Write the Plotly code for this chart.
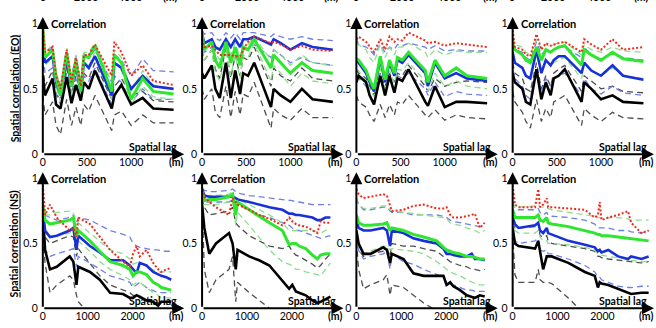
import plotly.graph_objects as go

W, H = 656, 328

# ---- spatial lags (m) ----
LAG_TOP = [0, 25, 110, 150, 200, 270, 325, 375, 430, 465, 520, 590, 780, 810, 890, 1000, 1130, 1250, 1480]
LAG_BOTTOM = [0, 50, 160, 310, 600, 680, 750, 790, 1050, 1270, 1500, 1790, 1940, 2010, 2090, 2160, 2310, 2460, 2570, 2640, 2750, 2860]
LAG_BOTTOM_4 = [0, 50, 130, 500, 570, 610, 680, 760, 790, 870, 1240, 1610, 1830, 1900, 1940, 1980, 2130, 2350, 2570, 2640, 2870, 3030]

TICKS_TOP = [0, 500, 1000]
TICKS_BOTTOM = [0, 1000, 2000]
TICKS_Y = [0, 0.5, 1]
TICKTEXT_Y = ["0", "0.5", "1"]

# ---- EO, panel 1 ----
eo1_black    = [0.60,0.45,0.58,0.38,0.35,0.59,0.39,0.53,0.41,0.55,0.50,0.64,0.35,0.45,0.53,0.38,0.43,0.35,0.34]
eo1_black_hi = [0.68,0.52,0.64,0.46,0.42,0.66,0.46,0.60,0.48,0.62,0.58,0.70,0.42,0.52,0.58,0.45,0.48,0.41,0.40]
eo1_black_lo = [0.45,0.30,0.40,0.22,0.15,0.42,0.22,0.36,0.22,0.38,0.33,0.45,0.18,0.30,0.33,0.22,0.30,0.24,0.24]
eo1_blue     = [0.90,0.70,0.75,0.55,0.45,0.72,0.52,0.68,0.48,0.70,0.66,0.75,0.45,0.70,0.66,0.50,0.60,0.52,0.50]
eo1_blue_hi  = [0.95,0.76,0.82,0.62,0.52,0.78,0.60,0.75,0.55,0.77,0.74,0.80,0.55,0.76,0.72,0.60,0.73,0.64,0.63]
eo1_blue_lo  = [0.82,0.62,0.66,0.45,0.38,0.62,0.42,0.58,0.40,0.60,0.56,0.66,0.38,0.60,0.55,0.40,0.50,0.42,0.42]
eo1_green    = [0.97,0.74,0.80,0.58,0.45,0.78,0.52,0.72,0.48,0.75,0.74,0.83,0.48,0.76,0.70,0.42,0.58,0.48,0.46]
eo1_green_hi = [0.98,0.77,0.84,0.63,0.52,0.81,0.58,0.76,0.55,0.78,0.78,0.85,0.55,0.80,0.74,0.48,0.64,0.53,0.50]
eo1_green_lo = [0.90,0.68,0.74,0.52,0.40,0.72,0.46,0.66,0.42,0.69,0.68,0.78,0.42,0.70,0.64,0.38,0.52,0.44,0.42]
eo1_red      = [1.00,0.78,0.82,0.60,0.50,0.80,0.55,0.74,0.52,0.76,0.76,0.84,0.60,0.86,0.78,0.60,0.68,0.56,0.53]

# ---- EO, panel 2 ----
eo2_black    = [0.62,0.58,0.68,0.50,0.43,0.70,0.43,0.64,0.46,0.62,0.60,0.70,0.36,0.50,0.45,0.40,0.50,0.42,0.40]
eo2_black_hi = [0.80,0.72,0.80,0.65,0.58,0.82,0.58,0.76,0.60,0.74,0.72,0.82,0.52,0.66,0.60,0.56,0.66,0.58,0.56]
eo2_black_lo = [0.50,0.42,0.50,0.32,0.28,0.52,0.28,0.48,0.30,0.46,0.44,0.55,0.20,0.35,0.30,0.26,0.35,0.28,0.28]
eo2_blue     = [0.92,0.85,0.88,0.82,0.80,0.88,0.82,0.88,0.82,0.88,0.88,0.90,0.84,0.88,0.85,0.80,0.85,0.82,0.80]
eo2_blue_hi  = [0.95,0.92,0.93,0.89,0.87,0.93,0.89,0.93,0.88,0.93,0.93,0.93,0.90,0.92,0.90,0.88,0.90,0.88,0.87]
eo2_blue_lo  = [0.88,0.78,0.82,0.74,0.70,0.82,0.74,0.80,0.72,0.80,0.80,0.84,0.74,0.80,0.76,0.70,0.74,0.70,0.68]
eo2_green    = [0.92,0.80,0.86,0.72,0.66,0.86,0.70,0.82,0.68,0.82,0.80,0.88,0.66,0.76,0.70,0.62,0.70,0.64,0.62]
eo2_green_hi = [0.94,0.84,0.88,0.78,0.72,0.88,0.76,0.85,0.74,0.85,0.84,0.90,0.72,0.80,0.76,0.68,0.76,0.70,0.68]
eo2_green_lo = [0.88,0.72,0.80,0.62,0.56,0.80,0.60,0.76,0.58,0.76,0.74,0.85,0.56,0.68,0.62,0.52,0.62,0.56,0.54]
eo2_red      = [0.88,0.82,0.83,0.80,0.76,0.76,0.76,0.75,0.75,0.80,0.86,0.90,0.85,0.86,0.84,0.80,0.83,0.80,0.79]

# ---- EO, panel 3 ----
eo3_black    = [0.55,0.60,0.55,0.45,0.38,0.60,0.45,0.60,0.47,0.58,0.56,0.65,0.40,0.37,0.52,0.36,0.40,0.40,0.39]
eo3_black_hi = [0.65,0.62,0.58,0.52,0.45,0.62,0.52,0.62,0.55,0.62,0.60,0.68,0.52,0.48,0.58,0.52,0.55,0.56,0.55]
eo3_black_lo = [0.45,0.40,0.36,0.30,0.25,0.38,0.28,0.38,0.30,0.40,0.38,0.45,0.30,0.28,0.34,0.26,0.30,0.28,0.27]
eo3_blue     = [0.72,0.70,0.62,0.55,0.48,0.73,0.55,0.70,0.60,0.72,0.70,0.76,0.62,0.52,0.70,0.58,0.62,0.58,0.56]
eo3_blue_hi  = [0.88,0.84,0.82,0.80,0.76,0.84,0.78,0.82,0.80,0.84,0.83,0.85,0.82,0.80,0.83,0.79,0.80,0.79,0.79]
eo3_blue_lo  = [0.60,0.58,0.52,0.45,0.40,0.58,0.45,0.58,0.48,0.60,0.58,0.62,0.50,0.45,0.55,0.44,0.48,0.46,0.45]
eo3_green    = [0.73,0.72,0.64,0.57,0.50,0.75,0.57,0.72,0.62,0.74,0.72,0.78,0.64,0.55,0.72,0.60,0.66,0.60,0.58]
eo3_green_hi = [0.85,0.84,0.80,0.74,0.70,0.84,0.74,0.82,0.76,0.82,0.82,0.85,0.78,0.74,0.80,0.76,0.79,0.78,0.78]
eo3_green_lo = [0.65,0.64,0.56,0.50,0.44,0.66,0.50,0.64,0.54,0.65,0.64,0.70,0.56,0.48,0.62,0.52,0.56,0.52,0.50]
eo3_red      = [0.88,0.90,0.86,0.82,0.78,0.88,0.80,0.90,0.86,0.88,0.87,0.93,0.87,0.85,0.86,0.83,0.85,0.84,0.82]

# ---- EO, panel 4 ----
eo4_black    = [0.62,0.55,0.50,0.40,0.38,0.65,0.42,0.55,0.45,0.58,0.60,0.65,0.40,0.55,0.50,0.42,0.45,0.40,0.39]
eo4_black_hi = [0.70,0.62,0.58,0.50,0.48,0.70,0.50,0.60,0.52,0.62,0.65,0.68,0.48,0.60,0.56,0.50,0.52,0.48,0.47]
eo4_black_lo = [0.48,0.40,0.32,0.25,0.20,0.42,0.25,0.35,0.28,0.40,0.42,0.45,0.22,0.35,0.30,0.25,0.32,0.28,0.27]
eo4_blue     = [0.78,0.70,0.66,0.60,0.58,0.80,0.62,0.72,0.68,0.72,0.75,0.75,0.62,0.70,0.64,0.60,0.68,0.60,0.57]
eo4_blue_hi  = [0.85,0.80,0.78,0.74,0.72,0.86,0.76,0.80,0.78,0.80,0.82,0.82,0.74,0.82,0.76,0.72,0.78,0.74,0.72]
eo4_blue_lo  = [0.65,0.58,0.52,0.45,0.42,0.65,0.48,0.58,0.52,0.58,0.60,0.62,0.45,0.58,0.50,0.46,0.52,0.47,0.45]
eo4_green    = [0.85,0.80,0.76,0.72,0.70,0.82,0.72,0.80,0.78,0.80,0.82,0.83,0.68,0.80,0.76,0.72,0.78,0.73,0.71]
eo4_green_hi = [0.90,0.84,0.82,0.78,0.76,0.88,0.80,0.84,0.82,0.84,0.85,0.86,0.76,0.84,0.80,0.78,0.82,0.79,0.78]
eo4_green_lo = [0.78,0.70,0.66,0.60,0.58,0.76,0.62,0.72,0.68,0.70,0.72,0.74,0.58,0.70,0.64,0.60,0.66,0.60,0.58]
eo4_red      = [0.95,0.82,0.80,0.76,0.75,0.92,0.80,0.85,0.83,0.84,0.85,0.86,0.78,0.88,0.84,0.80,0.88,0.80,0.82]

# ---- NS, panel 1 ----
ns1_black    = [0.75,0.45,0.30,0.32,0.40,0.36,0.18,0.32,0.28,0.22,0.12,0.11,0.08,0.08,0.10,0.09,0.06,0.05,0.02,0.05,0.05,0.05]
ns1_black_hi = [0.70,0.55,0.50,0.52,0.56,0.55,0.40,0.46,0.35,0.25,0.18,0.14,0.12,0.10,0.10,0.08,0.06,0.05,0.04,0.05,0.05,0.05]
ns1_black_lo = [0.55,0.35,0.12,0.18,0.25,0.22,0.10,0.05,-0.05,-0.10,-0.12,-0.14,-0.15,-0.15,-0.16,-0.16,-0.17,-0.18,-0.18,-0.18,-0.19,-0.19]
ns1_blue     = [0.78,0.60,0.55,0.56,0.60,0.62,0.45,0.56,0.48,0.43,0.37,0.37,0.33,0.30,0.27,0.35,0.33,0.28,0.26,0.25,0.24,0.22]
ns1_blue_hi  = [0.80,0.72,0.70,0.68,0.70,0.72,0.66,0.70,0.68,0.64,0.60,0.57,0.55,0.50,0.48,0.47,0.46,0.45,0.45,0.44,0.44,0.44]
ns1_blue_lo  = [0.62,0.45,0.40,0.42,0.45,0.46,0.32,0.40,0.35,0.30,0.25,0.22,0.20,0.16,0.18,0.20,0.16,0.14,0.12,0.12,0.12,0.12]
ns1_green    = [0.80,0.68,0.65,0.66,0.68,0.70,0.55,0.60,0.52,0.44,0.36,0.33,0.30,0.25,0.28,0.28,0.26,0.20,0.18,0.16,0.15,0.14]
ns1_green_hi = [0.80,0.72,0.72,0.74,0.75,0.74,0.62,0.66,0.58,0.52,0.45,0.42,0.38,0.34,0.35,0.36,0.32,0.30,0.28,0.28,0.28,0.28]
ns1_green_lo = [0.72,0.58,0.55,0.56,0.58,0.60,0.48,0.52,0.44,0.36,0.30,0.25,0.22,0.18,0.20,0.20,0.16,0.12,0.10,0.08,0.08,0.08]
ns1_red      = [0.95,0.72,0.80,0.70,0.60,0.62,0.55,0.70,0.65,0.55,0.45,0.36,0.32,0.42,0.48,0.40,0.45,0.35,0.30,0.28,0.30,0.31]

# ---- NS, panel 2 ----
ns2_black    = [0.80,0.62,0.42,0.50,0.58,0.50,0.30,0.45,0.40,0.37,0.33,0.21,0.15,0.18,0.13,0.12,0.10,0.06,0.04,0.05,0.07,0.09]
ns2_black_hi = [0.85,0.78,0.72,0.73,0.75,0.78,0.66,0.64,0.56,0.52,0.48,0.46,0.48,0.44,0.41,0.40,0.37,0.34,0.31,0.33,0.38,0.42]
ns2_black_lo = [0.82,0.30,0.12,0.22,0.30,0.40,0.05,0.20,0.12,0.06,0.00,-0.05,-0.08,-0.10,-0.12,-0.13,-0.14,-0.15,-0.16,-0.16,-0.17,-0.17]
ns2_blue     = [0.92,0.87,0.86,0.86,0.86,0.86,0.85,0.84,0.82,0.80,0.78,0.76,0.73,0.73,0.72,0.72,0.71,0.70,0.68,0.68,0.70,0.70]
ns2_blue_hi  = [0.93,0.91,0.90,0.90,0.91,0.92,0.90,0.89,0.87,0.86,0.85,0.84,0.83,0.83,0.82,0.82,0.81,0.80,0.80,0.80,0.80,0.80]
ns2_blue_lo  = [0.88,0.82,0.82,0.82,0.82,0.84,0.80,0.80,0.76,0.72,0.70,0.66,0.64,0.62,0.60,0.60,0.58,0.56,0.55,0.54,0.55,0.56]
ns2_green    = [0.90,0.83,0.84,0.84,0.86,0.88,0.72,0.82,0.76,0.71,0.66,0.60,0.49,0.50,0.50,0.48,0.46,0.41,0.38,0.41,0.42,0.42]
ns2_green_hi = [0.92,0.86,0.87,0.87,0.88,0.90,0.80,0.84,0.80,0.76,0.72,0.66,0.60,0.60,0.60,0.60,0.60,0.60,0.59,0.58,0.60,0.62]
ns2_green_lo = [0.88,0.80,0.80,0.80,0.82,0.84,0.64,0.74,0.64,0.55,0.45,0.36,0.34,0.33,0.30,0.30,0.28,0.27,0.26,0.25,0.30,0.35]
ns2_red      = [0.92,0.86,0.82,0.78,0.72,0.85,0.82,0.80,0.76,0.72,0.69,0.64,0.70,0.67,0.65,0.64,0.63,0.60,0.58,0.67,0.66,0.66]

# ---- NS, panel 3 ----
ns3_black    = [0.60,0.50,0.42,0.42,0.47,0.45,0.35,0.42,0.38,0.27,0.25,0.25,0.25,0.18,0.20,0.17,0.14,0.10,0.09,0.08,0.10,0.09]
ns3_black_hi = [0.58,0.45,0.40,0.42,0.44,0.46,0.40,0.50,0.48,0.48,0.46,0.44,0.40,0.38,0.36,0.35,0.33,0.32,0.30,0.30,0.29,0.30]
ns3_black_lo = [0.52,0.30,0.15,0.18,0.22,0.26,0.10,0.18,0.16,0.10,0.04,-0.02,-0.05,-0.07,-0.08,-0.09,-0.10,-0.11,-0.12,-0.12,-0.13,-0.13]
ns3_blue     = [0.68,0.62,0.60,0.60,0.62,0.60,0.48,0.60,0.58,0.54,0.52,0.50,0.46,0.42,0.42,0.41,0.40,0.40,0.42,0.38,0.38,0.37]
ns3_blue_hi  = [0.85,0.80,0.76,0.76,0.78,0.78,0.75,0.74,0.74,0.72,0.72,0.72,0.71,0.70,0.68,0.67,0.66,0.65,0.64,0.64,0.63,0.63]
ns3_blue_lo  = [0.55,0.45,0.38,0.40,0.42,0.44,0.30,0.42,0.36,0.34,0.30,0.26,0.24,0.20,0.20,0.18,0.16,0.14,0.14,0.13,0.13,0.13]
ns3_green    = [0.72,0.66,0.64,0.64,0.65,0.66,0.60,0.62,0.60,0.57,0.55,0.52,0.47,0.45,0.44,0.43,0.42,0.40,0.40,0.39,0.38,0.38]
ns3_green_hi = [0.85,0.80,0.77,0.77,0.79,0.79,0.76,0.75,0.74,0.73,0.72,0.71,0.70,0.69,0.66,0.65,0.64,0.62,0.61,0.60,0.58,0.60]
ns3_green_lo = [0.58,0.48,0.42,0.44,0.48,0.48,0.45,0.46,0.45,0.44,0.42,0.36,0.32,0.30,0.28,0.27,0.25,0.22,0.20,0.19,0.18,0.18]
ns3_red      = [0.92,0.88,0.85,0.86,0.88,0.87,0.80,0.75,0.76,0.79,0.80,0.77,0.77,0.78,0.72,0.70,0.70,0.71,0.72,0.73,0.62,0.66]

# ---- NS, panel 4 ----
ns4_black    = [0.62,0.50,0.48,0.46,0.52,0.45,0.30,0.40,0.40,0.40,0.35,0.28,0.25,0.16,0.20,0.19,0.18,0.15,0.12,0.11,0.12,0.12]
ns4_black_hi = [0.66,0.62,0.62,0.63,0.66,0.56,0.55,0.56,0.52,0.50,0.48,0.46,0.44,0.40,0.40,0.39,0.38,0.37,0.36,0.36,0.35,0.36]
ns4_black_lo = [0.58,0.26,0.20,0.20,0.30,0.22,0.20,0.20,0.20,0.19,0.08,-0.05,-0.10,-0.11,-0.12,-0.12,-0.13,-0.14,-0.15,-0.15,-0.16,-0.16]
ns4_blue     = [0.70,0.65,0.62,0.64,0.66,0.60,0.58,0.62,0.58,0.57,0.52,0.49,0.47,0.44,0.45,0.43,0.45,0.40,0.38,0.40,0.38,0.40]
ns4_blue_hi  = [0.82,0.77,0.76,0.76,0.77,0.74,0.72,0.74,0.72,0.71,0.70,0.68,0.65,0.62,0.62,0.62,0.62,0.60,0.60,0.59,0.58,0.60]
ns4_blue_lo  = [0.62,0.52,0.50,0.52,0.54,0.45,0.44,0.45,0.42,0.42,0.38,0.33,0.28,0.24,0.24,0.22,0.20,0.17,0.16,0.16,0.17,0.17]
ns4_green    = [0.76,0.70,0.70,0.70,0.72,0.68,0.67,0.70,0.66,0.65,0.63,0.60,0.58,0.57,0.57,0.56,0.56,0.55,0.54,0.54,0.53,0.52]
ns4_green_hi = [0.82,0.78,0.78,0.79,0.80,0.78,0.78,0.78,0.77,0.76,0.74,0.72,0.71,0.70,0.70,0.70,0.70,0.70,0.69,0.68,0.68,0.68]
ns4_green_lo = [0.68,0.60,0.58,0.58,0.60,0.55,0.52,0.52,0.50,0.50,0.49,0.47,0.45,0.42,0.42,0.41,0.40,0.39,0.38,0.37,0.36,0.36]
ns4_red      = [0.95,0.80,0.78,0.78,0.92,0.78,0.80,0.85,0.78,0.78,0.77,0.76,0.70,0.72,0.82,0.68,0.70,0.72,0.75,0.66,0.58,0.60]

# ---- line styles (drawn back to front) ----
STYLES = [
    ("black_lo", dict(color="#4d4d4d", width=1.3, dash="6px,4px")),
    ("black_hi", dict(color="#4d4d4d", width=1.3, dash="6px,4px")),
    ("blue_lo",  dict(color="#6f7fe6", width=1.3, dash="6px,4px")),
    ("blue_hi",  dict(color="#6f7fe6", width=1.3, dash="6px,4px")),
    ("green_lo", dict(color="#8ede8e", width=1.3, dash="6px,4px")),
    ("green_hi", dict(color="#8ede8e", width=1.3, dash="6px,4px")),
    ("black",    dict(color="#000000", width=2.6)),
    ("blue",     dict(color="#1830d8", width=2.6)),
    ("green",    dict(color="#2ee62e", width=3.0)),
    ("red",      dict(color="#f02a1c", width=2.0, dash="2px,2px")),
]

g = globals()
panels = []
for i in range(4):
    panels.append(dict(row=0, col=i, lag=LAG_TOP, prefix=f"eo{i+1}_"))
for i in range(4):
    panels.append(dict(row=1, col=i, lag=LAG_BOTTOM_4 if i == 3 else LAG_BOTTOM, prefix=f"ns{i+1}_"))

# panel geometry in pixels
AXIS_X0 = [40, 200, 355, 512]
PLOT_W = 142
ROW_Y0 = [157, 314]      # pixel row of correlation 0
ROW_PX_PER_UNIT = [133, 132]
Y_TOP = 1.05
X_MAX = [1600, 3150]
FONT = "Lato"

def px(x):
    return x / W

def py(y):
    return 1 - y / H

fig = go.Figure()
layout = dict(
    width=W, height=H, margin=dict(l=0, r=0, t=0, b=0),
    paper_bgcolor="white", plot_bgcolor="white", showlegend=False,
    font=dict(family=FONT, color="black"),
)
annotations = []

for n, p in enumerate(panels, start=1):
    r, c = p["row"], p["col"]
    x0 = AXIS_X0[c]
    y0 = ROW_Y0[r]
    ytop_px = y0 - Y_TOP * ROW_PX_PER_UNIT[r]
    xs = "" if n == 1 else str(n)
    layout[f"xaxis{xs}"] = dict(
        domain=[px(x0), px(x0 + PLOT_W)], range=[0, X_MAX[r]], anchor=f"y{xs}",
        showgrid=False, zeroline=False, showline=False, ticks="",
        tickvals=TICKS_TOP if r == 0 else TICKS_BOTTOM,
        tickfont=dict(size=10.5, family=FONT, color="black"),
    )
    layout[f"yaxis{xs}"] = dict(
        domain=[py(y0), py(ytop_px)], range=[0, Y_TOP], anchor=f"x{xs}",
        showgrid=False, zeroline=False, showline=False, ticks="",
        tickvals=TICKS_Y, ticktext=TICKTEXT_Y, ticklabelstandoff=4,
        tickfont=dict(size=10.5, family=FONT, color="black"),
    )
    for key, line in STYLES:
        fig.add_trace(go.Scatter(
            x=p["lag"], y=g[p["prefix"] + key], mode="lines", line=line,
            xaxis=f"x{xs}", yaxis=f"y{xs}", hoverinfo="skip",
        ))
    # axis arrows
    annotations.append(dict(x=0, y=Y_TOP, ax=0, ay=0, xref=f"x{xs}", yref=f"y{xs}",
                            axref=f"x{xs}", ayref=f"y{xs}", text="", showarrow=True,
                            arrowhead=2, arrowsize=1.2, arrowwidth=2, arrowcolor="black"))
    annotations.append(dict(x=X_MAX[r], y=0, ax=0, ay=0, xref=f"x{xs}", yref=f"y{xs}",
                            axref=f"x{xs}", ayref=f"y{xs}", text="", showarrow=True,
                            arrowhead=2, arrowsize=1.2, arrowwidth=2, arrowcolor="black"))
    y1_px = y0 - ROW_PX_PER_UNIT[r]
    annotations.append(dict(x=px(x0 + 6), y=py(y1_px), xref="paper", yref="paper",
                            text="<b>Correlation</b>", showarrow=False, xanchor="left",
                            yanchor="middle", font=dict(size=11, family=FONT)))
    annotations.append(dict(x=px(x0 + 137), y=py(y0 - 7), xref="paper", yref="paper",
                            text="<b>Spatial lag</b>", showarrow=False, xanchor="right",
                            yanchor="middle", font=dict(size=10.5, family=FONT)))
    annotations.append(dict(x=px(x0 + 134), y=py(y0 + 8), xref="paper", yref="paper",
                            text="<b>(m)</b>", showarrow=False, xanchor="center",
                            yanchor="middle", font=dict(size=10.5, family=FONT)))

# row titles
for label, yc in [("Spatial correlation (EO)", 90), ("Spatial correlation (NS)", 248)]:
    annotations.append(dict(x=px(12), y=py(yc), xref="paper", yref="paper",
                            text=f"<b><u>{label}</u></b>", showarrow=False, textangle=-90,
                            xanchor="center", yanchor="middle", font=dict(size=10.5, family=FONT)))

# tick labels of the row above, cut by the top edge
TOP_STRIP = [("0", [40, 200, 355, 511]), ("2000", [83, 245, 401, 553]),
             ("4000", [128, 290, 448, 599]), ("(m)", [168, 330, 489, 641])]
for txt, xs_ in TOP_STRIP:
    for xc in xs_:
        annotations.append(dict(x=px(xc), y=py(5), xref="paper", yref="paper",
                                text=f"<b>{txt}</b>", showarrow=False, xanchor="center",
                                yanchor="bottom", font=dict(size=10.5, family=FONT)))

layout["annotations"] = annotations
fig.update_layout(**layout)
fig.write_html("out.html")
